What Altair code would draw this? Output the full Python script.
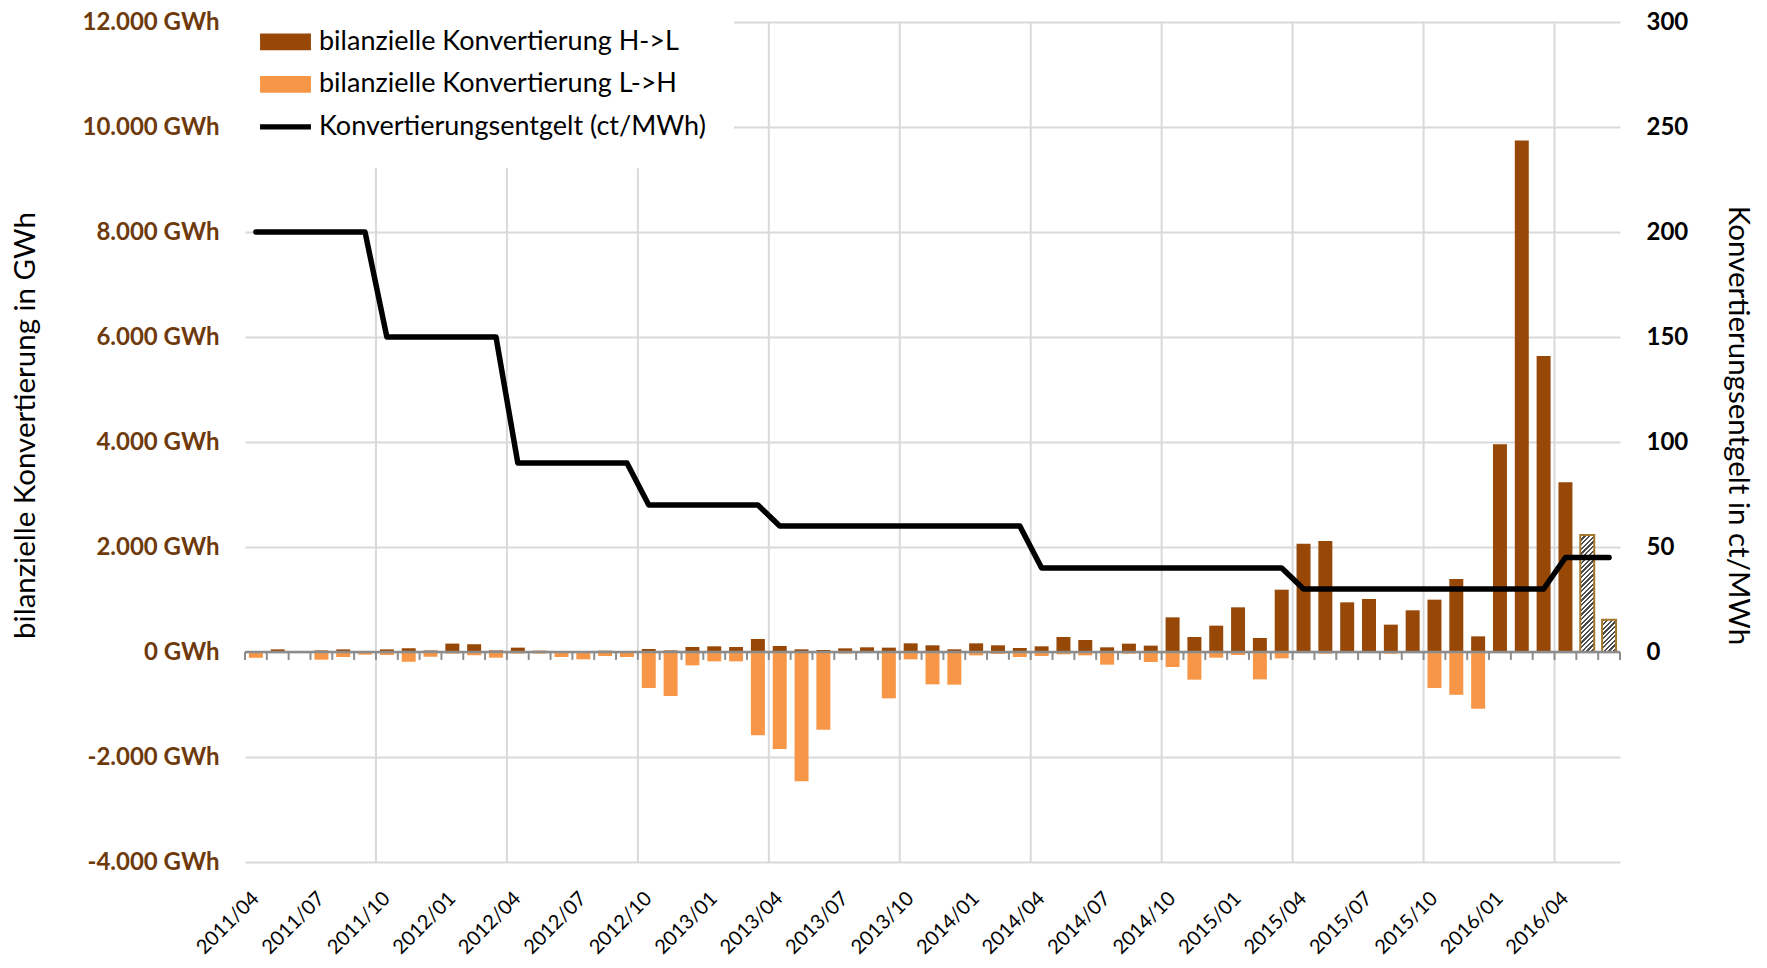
import altair as alt
import pandas as pd

# ---------------- data ----------------
months = [
    "2011/04", "2011/05", "2011/06", "2011/07", "2011/08", "2011/09",
    "2011/10", "2011/11", "2011/12", "2012/01", "2012/02", "2012/03",
    "2012/04", "2012/05", "2012/06", "2012/07", "2012/08", "2012/09",
    "2012/10", "2012/11", "2012/12", "2013/01", "2013/02", "2013/03",
    "2013/04", "2013/05", "2013/06", "2013/07", "2013/08", "2013/09",
    "2013/10", "2013/11", "2013/12", "2014/01", "2014/02", "2014/03",
    "2014/04", "2014/05", "2014/06", "2014/07", "2014/08", "2014/09",
    "2014/10", "2014/11", "2014/12", "2015/01", "2015/02", "2015/03",
    "2015/04", "2015/05", "2015/06", "2015/07", "2015/08", "2015/09",
    "2015/10", "2015/11", "2015/12", "2016/01", "2016/02", "2016/03",
    "2016/04", "2016/05", "2016/06",
]

# GWh, 2011/04 .. 2016/04
h_to_l = [
    0, 50, 10, 30, 50, 20,
    50, 70, 30, 160, 146, 30,
    83, 25, 0, 0, 25, 0,
    57, 30, 95, 108, 95, 248,
    114, 51, 38, 70, 89, 83,
    165, 127, 51, 165, 127, 76,
    108, 286, 229, 89, 159, 121,
    660, 286, 502, 851, 267, 1187,
    2064, 2115, 946, 1010, 521, 794,
    997, 1391, 298, 3956, 9741, 5639,
    3235,
]
l_to_h = [
    -110, -10, -20, -146, -95, -50,
    -57, -184, -90, -30, -64, -108,
    -30, -30, -95, -140, -76, -95,
    -686, -838, -254, -178, -178, -1588,
    -1848, -2464, -1480, -30, 0, -883,
    -140, -616, -622, -64, -38, -95,
    -76, -44, -64, -241, -32, -190,
    -286, -527, -108, -57, -521, -121,
    0, -32, 0, 0, -32, 0,
    -686, -815, -1080, 0, 0, 0,
    -20,
]
# estimated (hatched) H->L values
est_months = ["2016/05", "2016/06"]
est_values = [2229, 612]

# ct/MWh
entgelt = [
    200, 200, 200, 200, 200, 200,
    150, 150, 150, 150, 150, 150,
    90, 90, 90, 90, 90, 90,
    70, 70, 70, 70, 70, 70,
    60, 60, 60, 60, 60, 60,
    60, 60, 60, 60, 60, 60,
    40, 40, 40, 40, 40, 40,
    40, 40, 40, 40, 40, 40,
    30, 30, 30, 30, 30, 30,
    30, 30, 30, 30, 30, 30,
    45, 45, 45,
]

tick_labels = [
    "2011/04", "2011/07", "2011/10", "2012/01", "2012/04", "2012/07",
    "2012/10", "2013/01", "2013/04", "2013/07", "2013/10", "2014/01",
    "2014/04", "2014/07", "2014/10", "2015/01", "2015/04", "2015/07",
    "2015/10", "2016/01", "2016/04",
]
grid_months = [
    "2011/10", "2012/04", "2012/10", "2013/04", "2013/10",
    "2014/04", "2014/10", "2015/04", "2015/10", "2016/04",
]
gwh_ticks = [-4000, -2000, 0, 2000, 4000, 6000, 8000, 10000, 12000]
ct_ticks = [0, 50, 100, 150, 200, 250, 300]

HL = "bilanzielle Konvertierung H->L"
LH = "bilanzielle Konvertierung L->H"
LINE = "Konvertierungsentgelt (ct/MWh)"

# ---------------- style ----------------
W, H = 1375, 840
FONT = "Lato"
BROWN = "#974706"
ORANGE = "#F79646"
GRID = "#D9D9D9"
AXISGRAY = "#8C8C8C"
BAND = 0.64
Y_DOM = [-4000, 12000]
TITLE_Y = 403

xscale = alt.Scale(domain=months, paddingInner=0, paddingOuter=0)
xaxis = alt.Axis(values=tick_labels, labelAngle=-45, labelAlign="right",
                 labelBaseline="middle", labelFontSize=20, labelPadding=33,
                 labelColor="black", labelOverlap=False, domain=False,
                 ticks=False, grid=False, title=None)


def xenc(band_pos=None):
    kw = dict(scale=xscale, axis=xaxis, title=None)
    if band_pos is not None:
        kw["bandPosition"] = band_pos
    return alt.X("month:O", **kw)


yscale = alt.Scale(domain=Y_DOM, nice=False, zero=False)
yaxis = alt.Axis(
    values=gwh_ticks,
    labelExpr="(datum.value < 0 ? '-' : '') + replace(format(abs(datum.value), ','), ',', '.') + ' GWh'",
    labelFontSize=24, labelFontWeight="bold", labelColor="#6E3A0C",
    labelPadding=26, domain=False, ticks=False, grid=True,
    gridColor=GRID, gridWidth=2,
    title="bilanzielle Konvertierung in GWh", titleFontSize=29.5,
    titleFontWeight="normal", titleColor="black", titlePadding=41, titleY=TITLE_Y,
)


def yenc(field):
    return alt.Y(field, stack=None, scale=yscale, axis=yaxis)


# ---------------- frames ----------------
bars_df = pd.DataFrame({
    "month": months[:len(h_to_l)] * 2,
    "series": [HL] * len(h_to_l) + [LH] * len(l_to_h),
    "value": h_to_l + l_to_h,
})
grid_df = pd.DataFrame({"month": grid_months})
tick_df = pd.DataFrame({"month": months})
last_df = pd.DataFrame({"month": months[-1:]})
line_df = pd.DataFrame({"month": months, "price": entgelt})
one_df = pd.DataFrame({"k": [0]})

# ---------------- layers ----------------
vgrid = alt.Chart(grid_df).mark_rule(color=GRID, strokeWidth=2).encode(x=xenc(0))

legend = alt.Legend(
    title=None, orient="none", legendX=-1, legendY=-21.7,
    symbolType={"expr": "datum.value == '" + LINE + "' ? 'M-2.12,-0.22H2.12V0.22H-2.12Z' : 'M-2.12,-0.7H2.12V0.7H-2.12Z'"},
    symbolSize=576, symbolStrokeWidth=0, symbolOpacity=1,
    labelFontSize=27, labelFont=FONT, labelColor="black", labelOffset=20,
    labelLimit=800, rowPadding=14.5, padding=28, fillColor="white",
)

bars = alt.Chart(bars_df).mark_bar(width={"band": BAND}).encode(
    x=xenc(),
    y=yenc("value:Q"),
    color=alt.Color("series:N",
                    scale=alt.Scale(domain=[HL, LH, LINE], range=[BROWN, ORANGE, "black"]),
                    legend=legend),
)

px_per_gwh = H / (Y_DOM[1] - Y_DOM[0])
bar_w = BAND * W / len(months)


def hatch(value):
    h = value * px_per_gwh
    w = bar_w
    t = (w + h) * h / (w * w + h * h)
    n = max(2, int(round((w + h) / 4.6)))
    stops = []
    for k in range(n):
        a, b, c = k / n, (k + 0.5) / n, (k + 1) / n
        stops += [
            {"offset": a, "color": "#4D4D4D"},
            {"offset": b, "color": "#4D4D4D"},
            {"offset": b, "color": "#FFFFFF"},
            {"offset": c, "color": "#FFFFFF"},
        ]
    return {"gradient": "linear", "x1": 0, "y1": 0, "x2": t * w / h, "y2": t, "stops": stops}


hatched_layers = []
for m, v in zip(est_months, est_values):
    d = pd.DataFrame({"month": [m], "value": [v]})
    hatched_layers.append(
        alt.Chart(d).mark_bar(width={"band": BAND}, fill=hatch(v), stroke="#A5782C",
                              strokeWidth=2).encode(x=xenc(), y=yenc("value:Q"))
    )

zero_line = alt.Chart(one_df).mark_rule(color=AXISGRAY, strokeWidth=2.5).encode(y=alt.datum(0))
ticks = alt.Chart(tick_df).mark_rule(color=AXISGRAY, strokeWidth=2).encode(
    x=xenc(0), y=alt.datum(0), y2=alt.datum(-150))
ticks_last = alt.Chart(last_df).mark_rule(color=AXISGRAY, strokeWidth=2).encode(
    x=xenc(1), y=alt.datum(0), y2=alt.datum(-150))

left = alt.layer(vgrid, bars, *hatched_layers, zero_line, ticks, ticks_last)

line = alt.Chart(line_df).mark_line(color="black", strokeWidth=5.5, strokeCap="round",
                                    strokeJoin="round").encode(
    x=xenc(),
    y=alt.Y("price:Q",
            scale=alt.Scale(domain=[-100, 300], nice=False, zero=False),
            axis=alt.Axis(orient="right", values=ct_ticks, labelFontSize=24,
                          labelFontWeight="bold", labelColor="black", labelPadding=26,
                          domain=False, ticks=False, grid=False,
                          title="Konvertierungsentgelt  in ct/MWh", titleFontSize=29.5,
                          titleFontWeight="normal", titleColor="black", titlePadding=35,
                          titleY=TITLE_Y)),
)

chart = alt.layer(left, line).resolve_scale(y="independent").properties(
    width=W, height=H,
    autosize=alt.AutoSizeParams(type="none"),
    padding={"left": 237, "top": 14, "right": 139, "bottom": 98},
).configure(font=FONT).configure_view(strokeWidth=0)

chart.save("out.html", embed_options={"renderer": "svg", "actions": False})
